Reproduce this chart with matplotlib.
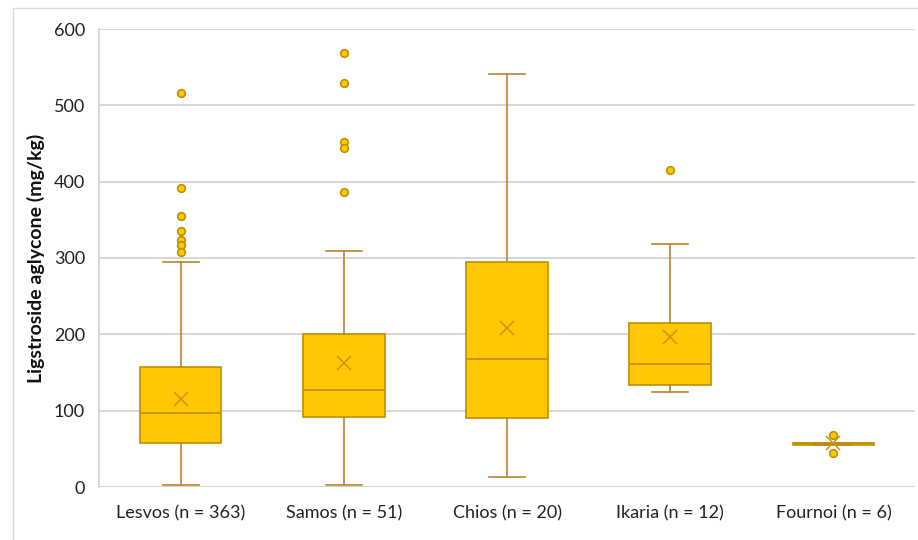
import matplotlib.pyplot as plt
from matplotlib.patches import Rectangle

plt.rcParams['font.family'] = ['Lato', 'DejaVu Sans']

islands = ['Lesvos (n = 363)', 'Samos (n = 51)', 'Chios (n = 20)', 'Ikaria (n = 12)', 'Fournoi (n = 6)']
whislo = [2, 2, 13, 124, 55]
q1 = [58, 92, 91, 134, 55]
med = [97, 127, 168, 161, 57]
q3 = [157, 201, 295, 215, 58]
whishi = [295, 309, 541, 318, 58]
means = [115, 163, 208, 197, 58]
outliers = [
    [516, 392, 355, 335, 324, 317, 308],
    [569, 529, 452, 444, 387],
    [],
    [415],
    [68, 45],
]

FILL = '#FFC800'
EDGE = '#BF8F00'
WHISK = '#B5852E'

stats = []
for i in range(len(islands)):
    stats.append({
        'label': islands[i],
        'whislo': whislo[i], 'q1': q1[i], 'med': med[i],
        'q3': q3[i], 'whishi': whishi[i], 'mean': means[i],
        'fliers': outliers[i],
    })

fig = plt.figure(figsize=(9.18, 5.4), dpi=100)
ax = fig.add_axes([99 / 918, 1 - 487 / 540, 816 / 918, 458 / 540])

ax.bxp(stats, positions=range(len(islands)), widths=0.5, showmeans=True,
       patch_artist=True,
       boxprops=dict(facecolor=FILL, edgecolor=EDGE, linewidth=1.2),
       medianprops=dict(color=EDGE, linewidth=1.2),
       whiskerprops=dict(color=WHISK, linewidth=1.2),
       capprops=dict(color=WHISK, linewidth=1.2),
       capwidths=0.22,
       meanprops=dict(marker='x', markeredgecolor='#C89418', markersize=10, markeredgewidth=1.1),
       flierprops=dict(marker='o', markerfacecolor=FILL, markeredgecolor=EDGE,
                       markersize=5.5, markeredgewidth=1.2))

ax.set_xlim(-0.5, len(islands) - 0.5)
ax.set_ylim(0, 600)
ax.set_yticks(range(0, 601, 100))
ax.yaxis.grid(True, color='#d0d0d0', linewidth=1.2)
ax.set_axisbelow(True)
for s in ['top', 'right', 'bottom']:
    ax.spines[s].set_visible(False)
ax.spines['left'].set_color('#d0d0d0')
ax.spines['left'].set_linewidth(1.2)
ax.tick_params(length=0, labelsize=13, colors='#222222', pad=10)
ax.tick_params(axis='x', pad=13)
ax.set_ylabel('Ligstroside aglycone (mg/kg)', fontsize=14, fontweight='bold', color='#111111')
ax.yaxis.set_label_coords(-0.066, 0.5)

# light frame around the chart area
fig.patches.append(Rectangle((13 / 918, -0.05), 1.1, 1 - 8 / 540 + 0.05,
                             transform=fig.transFigure, fill=False,
                             edgecolor='#d9d9d9', linewidth=1.0))

fig.savefig('out.png', dpi=100)
